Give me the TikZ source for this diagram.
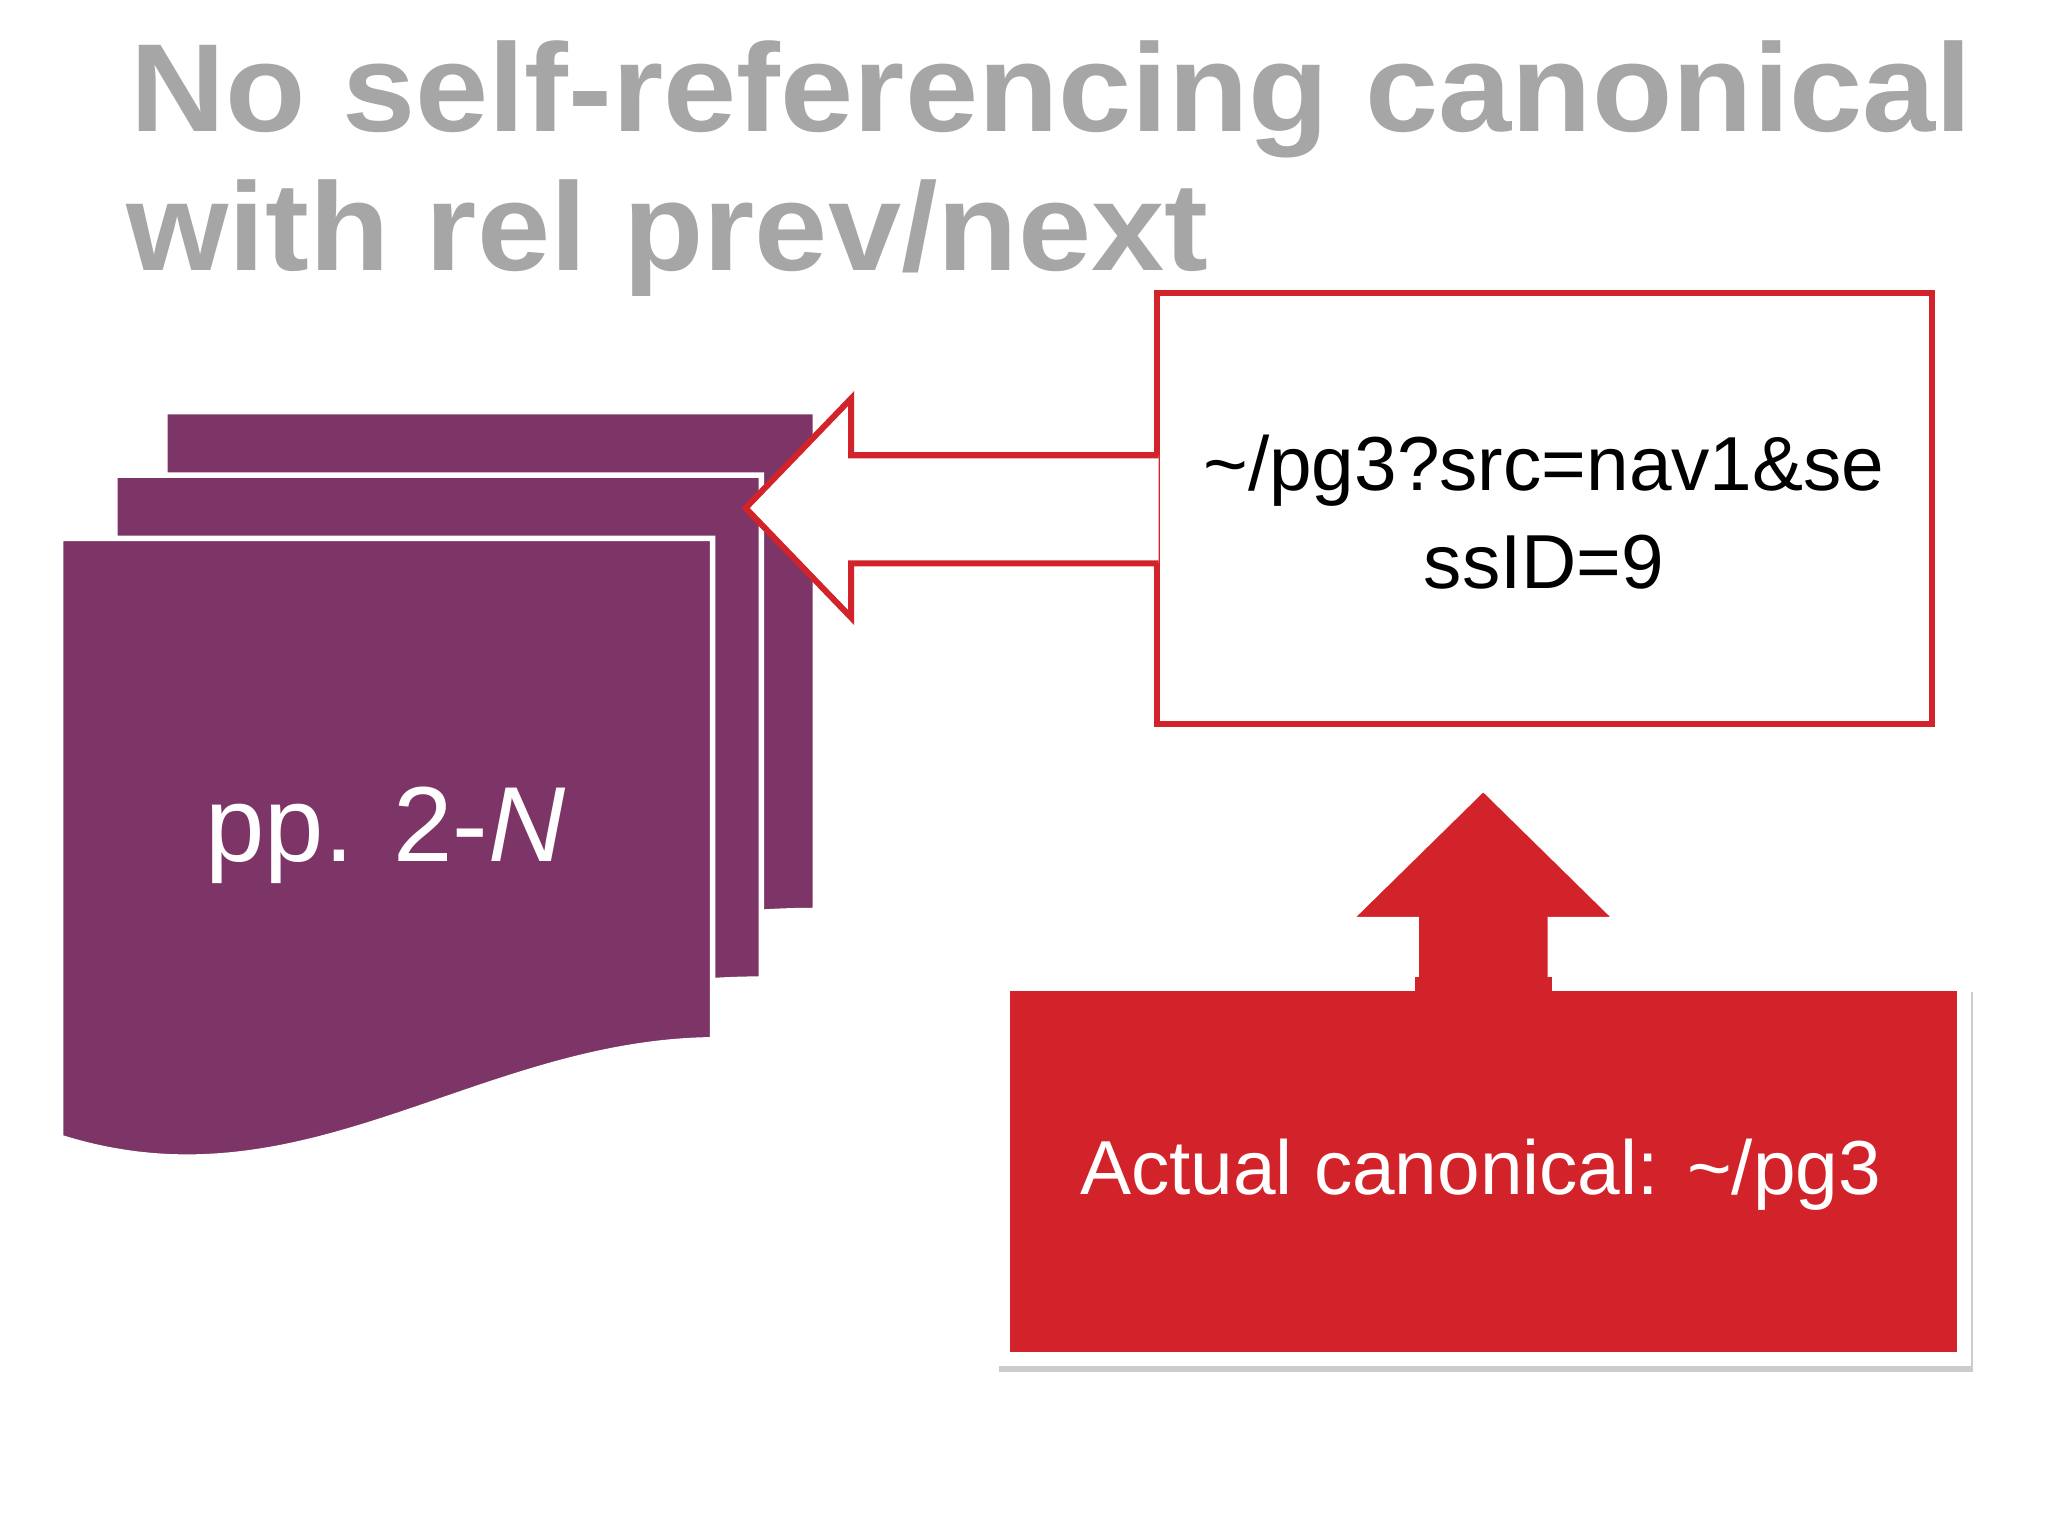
\documentclass[tikz,border=0pt]{standalone}
\usepackage{fontspec}
\setmainfont{Liberation Sans}
\definecolor{purp}{HTML}{7D3567}
\definecolor{redc}{HTML}{D2232A}
\definecolor{titleg}{HTML}{A6A6A6}
\begin{document}
\begin{tikzpicture}[x=0.01cm,y=-0.01cm,
  page/.style={fill=purp,draw=white,line width=1.2pt},
  big/.style={font=\fontsize{23}{28}\selectfont},
  mid/.style={font=\fontsize{16.5}{23}\selectfont},
  ttl/.style={anchor=base west,text=titleg,font=\fontsize{27}{30}\bfseries\selectfont,xscale=1.05,inner sep=0}]
\useasboundingbox (0,0) rectangle (1552,1164);
\fill[white] (0,0) rectangle (1552,1164);
% title
\node[ttl] (t1) at (98,100) {No self-referencing canonical};
\node[ttl] (t2) at (95,205) {with rel prev/next};
% pages
\draw[page] (125,312) -- (618,312) -- (618,690) .. controls (450,690) and (300,760) .. (125,740) -- cycle;
\draw[page] (87,360) -- (577,360) -- (577,742) .. controls (420,742) and (270,810) .. (87,790) -- cycle;
\draw[page] (46,408) -- (540,408) -- (540,788) .. controls (360,790) and (230,920) .. (46,862) -- cycle;
\node[big,text=white] (pp) at (292,633) {pp. 2-\textit{N}};
% top box + left arrow
\draw[redc,fill=white,line width=1.3pt] (877,222) rectangle (1464,549);
\draw[redc,fill=white,line width=1.3pt] (878,345) -- (645,345) -- (645,302) -- (565,385) -- (645,468) -- (645,427) -- (878,427);
\node[mid,align=center] (url) at (1170,388) {\textasciitilde/pg3?src=nav1\&se\\[-2pt]ssID=9};
% bottom box + up arrow
\fill[gray!40] (757,752) rectangle (1495,1040);
\draw[white,line width=3pt,fill=redc] (1070,746) -- (1070,700) -- (1015,700) -- (1124,593) -- (1233,700) -- (1178,700) -- (1178,746);
\draw[white,line width=3pt,fill=redc] (760,746) rectangle (1488,1030);
\fill[redc] (1072,740) rectangle (1176,752);
\node[mid,text=white] (act) at (1122,890) {Actual canonical: \textasciitilde/pg3};
\end{tikzpicture}
\end{document}
